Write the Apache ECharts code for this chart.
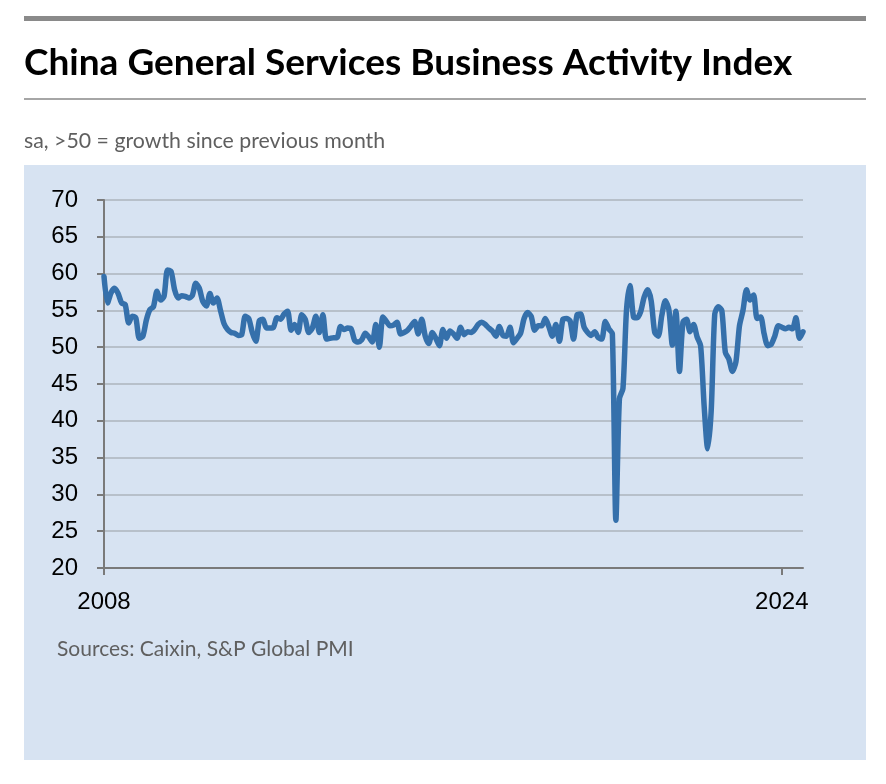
<!DOCTYPE html>
<html>
<head>
<meta charset="utf-8">
<script src="https://cdn.jsdelivr.net/npm/echarts@6/dist/echarts.min.js"></script>
<style>
html,body{margin:0;padding:0;background:#fff;}
#chart{width:886px;height:784px;}
</style>
</head>
<body>
<div id="chart"></div>
<script>
// Monthly index values, Jan of each year onward
var y2008 = [59.6, 56.0, 57.4, 58.0, 57.3, 56.0, 55.8, 53.3, 54.2, 54.0, 51.2, 51.5];
var y2009 = [53.7, 55.1, 55.5, 57.6, 56.4, 56.9, 60.5, 60.3, 57.8, 56.7, 57.0, 56.9];
var y2010 = [56.7, 57.0, 58.7, 58.0, 56.2, 55.6, 57.3, 56.0, 56.7, 55.0, 53.2, 52.4];
var y2011 = [52.0, 51.9, 51.6, 51.7, 54.2, 53.9, 52.0, 50.8, 53.6, 53.8, 52.6, 52.6];
var y2012 = [52.7, 54.0, 53.8, 54.5, 54.9, 52.3, 53.1, 52.0, 54.4, 53.8, 52.0, 52.6];
var y2013 = [54.2, 52.0, 54.4, 51.1, 51.2, 51.3, 51.3, 52.8, 52.4, 52.6, 52.5, 50.9];
var y2014 = [50.7, 51.0, 51.9, 51.4, 50.7, 53.1, 50.0, 54.1, 53.5, 52.9, 53.0, 53.4];
var y2015 = [51.8, 52.0, 52.3, 52.9, 53.5, 51.8, 53.8, 51.5, 50.5, 52.0, 51.2, 50.2];
var y2016 = [52.4, 51.2, 52.2, 51.8, 51.2, 52.7, 51.7, 52.1, 52.0, 52.4, 53.1, 53.4];
var y2017 = [53.1, 52.6, 52.2, 51.5, 52.8, 51.6, 51.5, 52.7, 50.6, 51.2, 51.9, 53.9];
var y2018 = [54.7, 54.2, 52.3, 52.9, 52.9, 53.9, 52.8, 51.5, 53.1, 50.8, 53.8, 53.9];
var y2019 = [53.6, 51.1, 54.4, 54.5, 52.7, 52.0, 51.6, 52.1, 51.3, 51.1, 53.5, 52.5];
var y2020 = [51.8, 26.5, 43.0, 44.4, 55.0, 58.4, 54.1, 54.0, 54.8, 56.8, 57.8, 56.3];
var y2021 = [52.0, 51.5, 54.3, 56.3, 55.1, 50.3, 54.9, 46.7, 53.4, 53.8, 52.1, 53.1];
var y2022 = [51.4, 50.2, 42.0, 36.2, 41.4, 54.5, 55.5, 55.0, 49.3, 48.4, 46.7, 48.0];
var y2023 = [52.9, 55.0, 57.8, 56.4, 57.1, 53.9, 54.1, 51.8, 50.2, 50.4, 51.5, 52.9];
var y2024 = [52.7, 52.5, 52.7, 52.5, 54.0, 51.2, 52.1];

var startYear = 2008;
var xTickYears = [2008, 2024];
var yTicks = [20, 25, 30, 35, 40, 45, 50, 55, 60, 65, 70];

var values = [].concat(y2008, y2009, y2010, y2011, y2012, y2013, y2014, y2015,
  y2016, y2017, y2018, y2019, y2020, y2021, y2022, y2023, y2024);
var seriesData = values.map(function (v, i) { return [i, v]; });
var xTickMonths = xTickYears.map(function (y) { return (y - startYear) * 12; });

var chart = echarts.init(document.getElementById('chart'), null, {renderer: 'canvas'});
var option = {
  backgroundColor: '#ffffff',
  animation: false,
  graphic: [
    {type: 'rect', z: -100, shape: {x: 24, y: 165, width: 842, height: 595}, style: {fill: '#d7e3f2'}},
    {type: 'rect', shape: {x: 24, y: 16, width: 842, height: 5}, style: {fill: '#8a8a8a'}},
    {type: 'rect', shape: {x: 24, y: 98, width: 842, height: 2}, style: {fill: '#a6a6a6'}},
    {type: 'text', left: 24, top: 45, style: {text: 'China General Services Business Activity Index', font: 'bold 37px Lato, "Open Sans", sans-serif', fill: '#000'}},
    {type: 'text', left: 24, top: 131, style: {text: 'sa, >50 = growth since previous month', font: '21.3px Lato, "Open Sans", sans-serif', fill: '#5f5f5f'}},
    {type: 'text', left: 57, top: 639, style: {text: 'Sources: Caixin, S&P Global PMI', font: '21px Lato, "Open Sans", sans-serif', fill: '#5f5f5f'}}
  ],
  grid: {left: 104, right: 83, top: 200, bottom: 216, containLabel: false},
  xAxis: {
    type: 'value', min: 0, max: values.length - 1,
    axisLine: {show: true, lineStyle: {color: '#7a7a7a', width: 2}},
    axisTick: {show: true, length: 7, lineStyle: {color: '#7a7a7a', width: 2}, customValues: xTickMonths},
    axisLabel: {
      customValues: xTickMonths, margin: 22,
      fontFamily: '"Liberation Sans", Arial, sans-serif', fontSize: 24, color: '#000',
      formatter: function (v) { return String(startYear + Math.round(v / 12)); }
    },
    splitLine: {show: false}
  },
  yAxis: {
    type: 'value', min: yTicks[0], max: yTicks[yTicks.length - 1], interval: 5,
    axisLine: {show: true, lineStyle: {color: '#7a7a7a', width: 2}},
    axisTick: {show: true, length: 7, lineStyle: {color: '#7a7a7a', width: 2}},
    axisLabel: {margin: 26, fontFamily: '"Liberation Sans", Arial, sans-serif', fontSize: 24, color: '#000'},
    splitLine: {show: true, lineStyle: {color: '#b7c0ca', width: 2}}
  },
  series: [{
    type: 'line', data: seriesData, showSymbol: false, smooth: 0.25,
    lineStyle: {color: '#3570ab', width: 5.5, join: 'round', cap: 'round'},
    z: 5
  }]
};
chart.setOption(option);
</script>
</body>
</html>
